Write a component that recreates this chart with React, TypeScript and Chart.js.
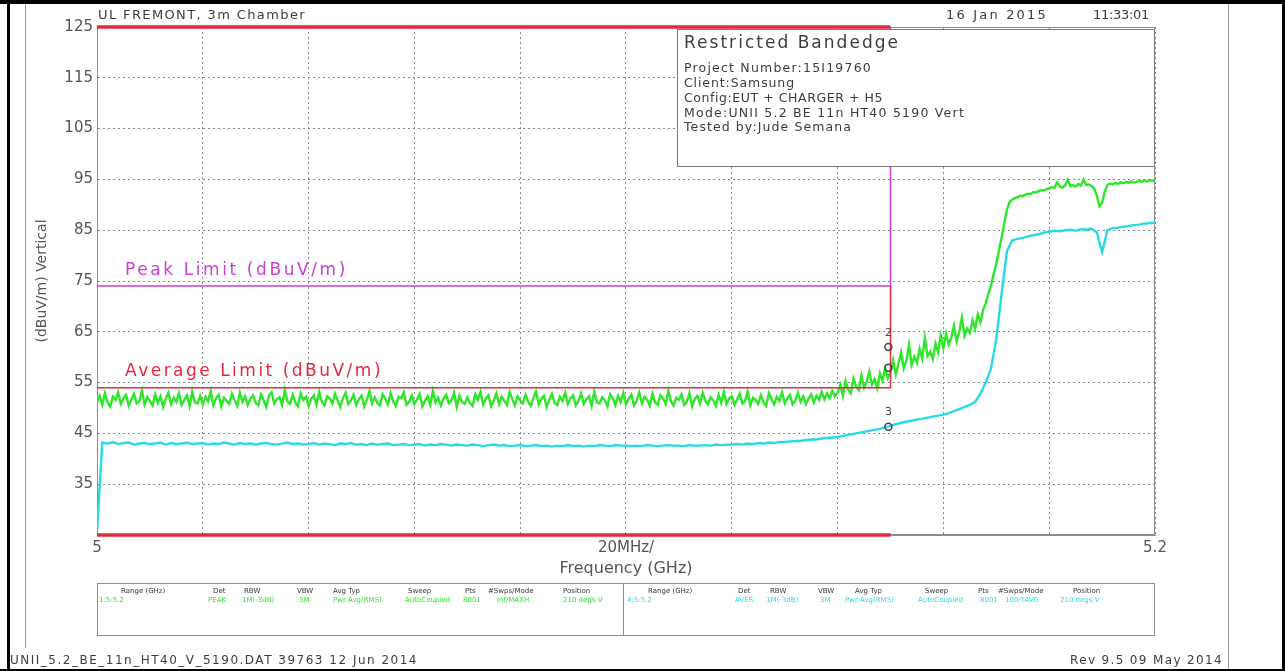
import React, { useEffect, useRef } from 'react';
import { Chart, registerables } from 'chart.js';

Chart.register(...registerables);

// ---------- data ----------
const F_START = 5.0; // GHz
const PEAK_STEP = 0.0005; // GHz per sample (peak trace)
const AVG_STEP = 0.001; // GHz per sample (average trace)

// Peak detector trace (green), dBuV/m
const peakTrace = [
  51.2, 52.4, 50.6, 52.9, 51.1, 50.3, 52.2, 51.6, 53.1, 50.8, 51.9, 52.6, 50.4, 51.7, 52.8, 50.9, 51.3, 53.4, 50.7, 52.1,
  51.4, 50.5, 52.7, 51.0, 52.3, 50.2, 51.8, 53.0, 50.8, 52.0, 51.2, 52.9, 50.6, 51.5, 52.5, 50.4, 53.2, 51.1, 50.9, 52.4,
  50.7, 52.2, 51.3, 53.3, 50.5, 51.9, 52.6, 50.3, 52.0, 51.4, 50.8, 52.8, 51.6, 50.4, 53.0, 51.2, 52.3, 50.6, 51.8, 52.5,
  51.0, 50.5, 52.7, 51.5, 50.2, 52.4, 53.1, 50.9, 51.7, 52.1, 50.6, 53.5, 51.3, 50.8, 52.6, 51.1, 50.3, 52.9, 51.6, 52.2,
  50.4, 51.8, 52.5, 50.7, 53.2, 51.2, 50.5, 52.3, 51.9, 50.9, 52.8, 51.4, 50.2, 52.0, 53.0, 50.8, 51.5, 52.6, 50.6, 51.7,
  52.4, 50.3, 51.6, 53.3, 50.9, 52.1, 51.0, 50.5, 52.7, 51.8, 50.7, 52.9, 51.3, 50.4, 52.2, 51.9, 53.1, 50.6, 51.2, 52.5,
  50.8, 51.7, 52.8, 50.3, 51.4, 52.3, 50.6, 53.4, 51.1, 52.0, 50.5, 51.8, 52.6, 50.9, 51.5, 53.0, 50.2, 52.4, 51.2, 50.8,
  52.1, 51.0, 50.4, 52.7, 51.6, 53.2, 50.7, 51.9, 52.5, 50.3, 51.3, 52.9, 50.8, 52.2, 51.4, 50.6, 53.1, 51.8, 50.5, 52.3,
  51.5, 50.9, 52.6, 51.2, 50.4, 52.0, 53.3, 50.7, 51.8, 52.4, 50.2, 51.6, 52.8, 51.0, 50.6, 52.2, 51.4, 53.0, 50.8, 51.9,
  52.5, 50.5, 51.3, 52.9, 50.8, 51.7, 52.3, 50.4, 53.2, 51.1, 50.9, 52.1, 51.5, 50.3, 52.7, 51.9, 50.6, 52.4, 51.2, 53.0,
  50.7, 51.8, 52.6, 50.5, 51.4, 53.1, 50.9, 52.2, 51.6, 50.4, 52.8, 51.1, 50.6, 52.5, 51.9, 50.8, 53.4, 51.3, 50.5, 52.0,
  51.6, 52.7, 50.6, 51.2, 52.9, 50.3, 51.8, 52.4, 50.9, 53.0, 51.4, 50.7, 52.1, 51.5, 50.4, 52.6, 51.0, 53.2, 50.8, 51.9,
  52.3, 50.6, 51.7, 52.8, 50.9, 51.3, 53.3, 50.5, 52.0, 51.6, 50.8, 52.5, 51.1, 50.4, 52.9, 51.8, 50.7, 52.2, 51.4, 53.1,
  50.9, 51.9, 52.6, 50.7, 51.5, 53.0, 51.2, 52.3, 50.8, 51.8, 52.7, 51.1, 52.4, 51.6, 53.2, 51.7, 52.9, 51.9, 53.4, 52.3,
  53.0, 54.6, 52.4, 55.3, 53.6, 52.9, 55.8, 54.2, 53.5, 56.4, 54.0, 55.1, 57.2, 54.6, 55.7, 53.9, 56.8, 55.4, 57.9, 55.9,
  57.1, 59.4, 56.6, 58.7, 60.9, 57.8, 59.2, 62.4, 58.5, 60.1, 58.9, 61.6, 59.7, 63.8, 60.2, 61.1, 59.6, 62.7, 61.0, 64.3,
  61.8, 64.6, 62.5, 63.9, 66.2, 63.1, 65.0, 67.8, 64.2, 65.6, 64.8, 67.3, 65.5, 68.4, 66.9, 69.3, 70.6, 72.4, 74.1, 76.3,
  78.4, 81.0, 83.5, 86.3, 89.0, 90.5, 91.0, 91.3, 91.5, 91.8, 91.7, 92.0, 92.2, 92.1, 92.5, 92.4, 92.7, 92.9, 92.8, 93.1,
  93.2, 93.5, 93.3, 94.4, 93.6, 93.4, 93.8, 94.9, 93.7, 93.9, 93.6, 94.1, 93.8, 95.0, 93.9, 94.0, 93.7, 93.2, 91.8, 89.7,
  90.4, 92.6, 93.9, 94.2, 94.0, 94.3, 94.1, 94.4, 94.2, 94.5, 94.3, 94.6, 94.4, 94.5, 94.7, 94.5, 94.8, 94.6, 94.9, 94.7,
  94.8,
];

// Average detector trace (cyan), dBuV/m
const avgTrace = [
  25.5, 43.2, 43.0, 43.3, 42.9, 43.1, 43.2, 42.8, 43.0, 43.1,
  42.9, 43.0, 43.2, 42.8, 43.1, 42.9, 43.0, 43.2, 42.9, 43.0,
  43.1, 42.8, 43.0, 42.9, 43.2, 43.0, 42.8, 43.1, 42.9, 43.0,
  42.8, 43.0, 43.1, 42.9, 42.8, 43.0, 43.2, 42.9, 43.0, 42.8,
  42.9, 43.1, 42.8, 43.0, 42.9, 42.7, 43.0, 42.9, 43.1, 42.8,
  42.9, 42.7, 43.0, 42.8, 42.9, 43.0, 42.7, 42.8, 42.9, 42.7,
  42.8, 42.9, 42.6, 42.8, 42.7, 42.9, 42.8, 42.6, 42.8, 42.7,
  42.6, 42.8, 42.7, 42.5, 42.7, 42.8, 42.6, 42.7, 42.5, 42.6,
  42.7, 42.5, 42.6, 42.7, 42.5, 42.6, 42.4, 42.6, 42.5, 42.7,
  42.5, 42.6, 42.4, 42.6, 42.5, 42.7, 42.6, 42.5, 42.7, 42.6,
  42.6, 42.5, 42.6, 42.5, 42.7, 42.6, 42.5, 42.6, 42.7, 42.6,
  42.6, 42.5, 42.7, 42.6, 42.6, 42.7, 42.6, 42.8, 42.7, 42.8,
  42.8, 42.9, 42.8, 43.0, 42.9, 43.1, 43.0, 43.2, 43.1, 43.3,
  43.3, 43.4, 43.5, 43.5, 43.7, 43.8, 43.8, 44.0, 44.1, 44.2,
  44.3, 44.5, 44.7, 44.9, 45.1, 45.3, 45.5, 45.7, 45.9, 46.2,
  46.5, 46.8, 47.1, 47.3, 47.5, 47.7, 47.9, 48.1, 48.3, 48.5,
  48.7, 49.0, 49.4, 49.8, 50.2, 50.6, 51.2, 52.8, 55.0, 57.8,
  63.5, 72.5, 80.8, 83.0, 83.3, 83.5, 83.8, 84.0, 84.2, 84.5,
  84.7, 84.9, 84.8, 85.0, 85.1, 84.9, 85.2, 85.1, 85.3, 84.6,
  80.7, 85.0, 85.4, 85.5, 85.7, 85.8, 86.0, 86.1, 86.3, 86.4,
  86.5,
];

// Limit lines (frequency in GHz, level in dBuV/m)
const peakLimitX = [5.0, 5.15, 5.15];
const peakLimitY = [74, 74, 125];
const avgLimitX = [5.0, 5.15, 5.15];
const avgLimitY = [54, 54, 74];
// Restricted band bars at top and bottom
const bandX = [5.0, 5.15];
const bandTopY = [125, 125];
const bandBottomY = [25, 25];
// Markers
const markerX = [5.1496, 5.1496, 5.1496];
const markerY = [57.9, 62.0, 46.3];
const markerLabels = ['2', '3'];
const markerLabelX = [5.1496, 5.1496];
const markerLabelY = [64.8, 49.2];

// Axis ticks
const xTickValues = [5.0, 5.02, 5.04, 5.06, 5.08, 5.1, 5.12, 5.14, 5.16, 5.18, 5.2];
const xTickLabels = ['5', '', '', '', '', '20MHz/', '', '', '', '', '5.2'];
const yTickValues = [25, 35, 45, 55, 65, 75, 85, 95, 105, 115, 125];
const yTickLabels = ['', '35', '45', '55', '65', '75', '85', '95', '105', '115', '125'];

// Text
const headerLeft = 'UL FREMONT, 3m Chamber';
const headerDate = '16 Jan 2015';
const headerTime = '11:33:01';
const infoTitle = 'Restricted Bandedge';
const infoLines = [
  'Project Number:15I19760',
  'Client:Samsung',
  'Config:EUT + CHARGER + H5',
  'Mode:UNII 5.2 BE 11n HT40 5190 Vert',
  'Tested by:Jude Semana',
];
const tableHeaders = ['Range (GHz)', 'Det', 'RBW', 'VBW', 'Avg Typ', 'Sweep', 'Pts', '#Swps/Mode', 'Position'];
const peakRow = ['1:5-5.2', 'PEAK', '1M(-3dB)', '3M', 'Pwr Avg(RMS)', 'AutoCoupled', '8001', 'Inf/MAXH', '210 degs V'];
const avgRow = ['4:5-5.2', 'AVER', '1M(-3dB)', '3M', 'Pwr Avg(RMS)', 'AutoCoupled', '8001', '100/TAVG', '210 degs V'];
const footerLeft = 'UNII_5.2_BE_11n_HT40_V_5190.DAT 39763 12 Jun 2014';
const footerRight = 'Rev 9.5 09 May 2014';

// ---------- styles ----------
const FAM = '"DejaVu Sans", "Liberation Sans", sans-serif';
const GREEN = '#2ee62a';
const CYAN = '#27dbe6';
const MAGENTA = '#cc3fd2';
const RED = '#e6283c';
const TEXT = '#3c3c3c';

const xy = (xs: number[], ys: number[]) => xs.map((x, i) => ({ x, y: ys[i] }));
const stepped = (vals: number[], step: number) => vals.map((y, i) => ({ x: F_START + i * step, y }));

function fitText(ctx: CanvasRenderingContext2D, text: string, x: number, y: number, w: number, size: number, color: string) {
  ctx.save();
  ctx.font = `${size}px ${FAM}`;
  ctx.fillStyle = color;
  ctx.textAlign = 'left';
  ctx.textBaseline = 'middle';
  const m = ctx.measureText(text).width;
  const n = text.length;
  (ctx as any).letterSpacing = `${n > 0 ? (w - m) / n : 0}px`;
  ctx.fillText(text, x, y);
  (ctx as any).letterSpacing = '0px';
  ctx.restore();
}

function plainText(ctx: CanvasRenderingContext2D, text: string, x: number, y: number, size: number, color: string) {
  ctx.save();
  ctx.font = `${size}px ${FAM}`;
  ctx.fillStyle = color;
  ctx.textAlign = 'left';
  ctx.textBaseline = 'middle';
  ctx.fillText(text, x, y);
  ctx.restore();
}

const decorPlugin = {
  id: 'decor',
  beforeDatasetsDraw(chart: any) {
    const { ctx, chartArea: a } = chart;
    ctx.save();
    ctx.strokeStyle = '#8c8c8c';
    ctx.lineWidth = 1;
    ctx.strokeRect(a.left + 0.5, a.top + 0.5, a.right - a.left - 1, a.bottom - a.top - 1);
    ctx.restore();
  },
  afterDraw(chart: any) {
    const { ctx, scales } = chart;
    const xs = scales.x;
    const ys = scales.y;

    // page frame
    ctx.save();
    ctx.fillStyle = '#000';
    ctx.fillRect(0, 0, 1285, 4);
    ctx.fillRect(7, 0, 3, 671);
    ctx.fillRect(1282, 0, 3, 671);
    ctx.fillRect(0, 669, 1285, 2);
    ctx.strokeStyle = '#9a9a9a';
    ctx.lineWidth = 1;
    ctx.beginPath();
    ctx.moveTo(25.5, 4);
    ctx.lineTo(25.5, 648);
    ctx.moveTo(1228.5, 4);
    ctx.lineTo(1228.5, 669);
    ctx.stroke();
    ctx.restore();

    // header
    fitText(ctx, headerLeft, 98, 16, 208, 13, TEXT);
    fitText(ctx, headerDate, 946, 16, 102, 13, TEXT);
    fitText(ctx, headerTime, 1093, 16, 56, 13, TEXT);

    // info box
    ctx.save();
    ctx.fillStyle = '#fff';
    ctx.fillRect(677, 29, 1155 - 677, 138);
    ctx.strokeStyle = '#7a7a7a';
    ctx.lineWidth = 1;
    ctx.strokeRect(677.5, 29.5, 1155 - 677 - 1, 137);
    ctx.restore();
    fitText(ctx, infoTitle, 684, 44, 216, 17, TEXT);
    const infoW = [188, 111, 199, 281, 168];
    infoLines.forEach((t, i) => fitText(ctx, t, 684, 69 + i * 14.8, infoW[i], 12.5, TEXT));

    // limit labels
    const lx = xs.getPixelForValue(5.0) + 28;
    fitText(ctx, 'Peak Limit (dBuV/m)', lx, ys.getPixelForValue(74) - 16, 223, 17, MAGENTA);
    fitText(ctx, 'Average Limit (dBuV/m)', lx, ys.getPixelForValue(54) - 16, 258, 17, RED);

    // marker labels
    markerLabels.forEach((t, i) => {
      ctx.save();
      ctx.font = `11px ${FAM}`;
      ctx.fillStyle = '#444';
      ctx.textAlign = 'center';
      ctx.textBaseline = 'middle';
      ctx.fillText(t, xs.getPixelForValue(markerLabelX[i]), ys.getPixelForValue(markerLabelY[i]));
      ctx.restore();
    });

    // settings table
    ctx.save();
    ctx.strokeStyle = '#8c8c8c';
    ctx.lineWidth = 1;
    ctx.strokeRect(97.5, 583.5, 1057, 52);
    ctx.beginPath();
    ctx.moveTo(623.5, 583.5);
    ctx.lineTo(623.5, 635.5);
    ctx.stroke();
    ctx.restore();
    const hdrX1 = [121, 213, 244, 297, 333, 408, 465, 488, 563];
    const valX1 = [99, 208, 242, 299, 333, 405, 463, 497, 563];
    const hdrX2 = [648, 738, 770, 818, 855, 925, 978, 998, 1073];
    const valX2 = [627, 735, 766, 820, 845, 918, 980, 1005, 1060];
    tableHeaders.forEach((t, i) => {
      plainText(ctx, t, hdrX1[i], 591, 7, '#333');
      plainText(ctx, t, hdrX2[i], 591, 7, '#333');
    });
    peakRow.forEach((t, i) => plainText(ctx, t, valX1[i], 600, 7, GREEN));
    avgRow.forEach((t, i) => plainText(ctx, t, valX2[i], 600, 7, CYAN));

    // footer
    fitText(ctx, footerLeft, 10, 661, 408, 12, TEXT);
    fitText(ctx, footerRight, 1070, 661, 153, 12, TEXT);
  },
};

export default function App() {
  const ref = useRef<HTMLCanvasElement>(null);

  useEffect(() => {
    if (!ref.current) return;
    const chart = new Chart(ref.current, {
      type: 'line',
      data: {
        datasets: [
          {
            label: 'Markers',
            data: xy(markerX, markerY),
            showLine: false,
            pointRadius: 3.5,
            pointStyle: 'circle',
            pointBorderColor: '#3d4a55',
            pointBackgroundColor: 'rgba(0,0,0,0)',
            pointBorderWidth: 1.5,
          },
          {
            label: 'Restricted band top',
            data: xy(bandX, bandTopY),
            borderColor: RED,
            borderWidth: 3.5,
            pointRadius: 0,
            clip: 4,
          },
          {
            label: 'Restricted band bottom',
            data: xy(bandX, bandBottomY),
            borderColor: RED,
            borderWidth: 3.5,
            pointRadius: 0,
            clip: 4,
          },
          {
            label: 'Average Limit',
            data: xy(avgLimitX, avgLimitY),
            borderColor: RED,
            borderWidth: 1.5,
            pointRadius: 0,
          },
          {
            label: 'Peak Limit',
            data: xy(peakLimitX, peakLimitY),
            borderColor: MAGENTA,
            borderWidth: 1.5,
            pointRadius: 0,
          },
          {
            label: 'Average',
            data: stepped(avgTrace, AVG_STEP),
            borderColor: CYAN,
            borderWidth: 2.4,
            pointRadius: 0,
          },
          {
            label: 'Peak',
            data: stepped(peakTrace, PEAK_STEP),
            borderColor: GREEN,
            borderWidth: 2.4,
            pointRadius: 0,
          },
        ],
      },
      options: {
        responsive: false,
        animation: false,
        devicePixelRatio: 1,
        layout: { padding: { top: 27, right: 130, bottom: 0, left: 0 } },
        plugins: {
          legend: { display: false },
          tooltip: { enabled: false },
          title: { display: false },
        },
        elements: { line: { tension: 0 } },
        scales: {
          x: {
            type: 'linear',
            min: 5.0,
            max: 5.2,
            afterFit: (s: any) => {
              s.height = 136;
            },
            afterBuildTicks: (s: any) => {
              s.ticks = xTickValues.map((v) => ({ value: v }));
            },
            ticks: {
              autoSkip: false,
              maxRotation: 0,
              minRotation: 0,
              padding: 4,
              color: '#555',
              font: { family: FAM, size: 15 },
              callback: (_v: any, i: number) => xTickLabels[i],
            },
            grid: { color: '#8a8a8a', lineWidth: 1, drawTicks: false },
            border: { display: true, color: '#8c8c8c', dash: [2, 3] },
            title: {
              display: true,
              text: 'Frequency (GHz)',
              color: '#555',
              font: { family: FAM, size: 16 },
              padding: { top: 0, bottom: 93 },
            },
          },
          y: {
            type: 'linear',
            min: 25,
            max: 125,
            afterFit: (s: any) => {
              s.width = 97;
            },
            afterBuildTicks: (s: any) => {
              s.ticks = yTickValues.map((v) => ({ value: v }));
            },
            ticks: {
              padding: 4,
              color: '#555',
              font: { family: FAM, size: 15 },
              callback: (_v: any, i: number) => yTickLabels[i],
            },
            grid: { color: '#8a8a8a', lineWidth: 1, drawTicks: false },
            border: { display: true, color: '#8c8c8c', dash: [2, 3] },
            title: {
              display: true,
              text: '(dBuV/m) Vertical',
              color: '#555',
              font: { family: FAM, size: 14 },
              padding: { top: 34, bottom: 0 },
            },
          },
        },
      },
      plugins: [decorPlugin],
    } as any);
    return () => chart.destroy();
  }, []);

  return (
    <div style={{ position: 'absolute', left: 0, top: 0, width: 1285, height: 671, background: '#fff' }}>
      <canvas ref={ref} width={1285} height={671} style={{ display: 'block', width: 1285, height: 671 }} />
    </div>
  );
}
